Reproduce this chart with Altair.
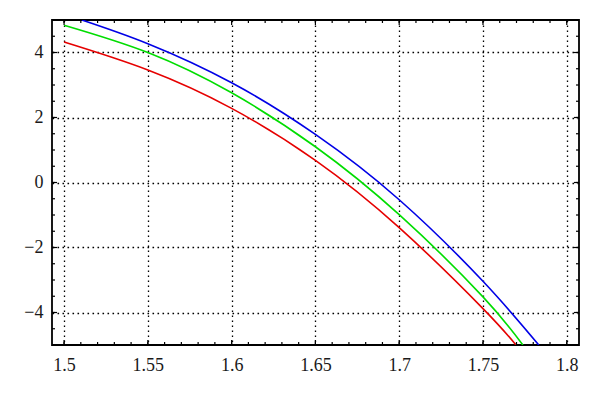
import altair as alt
import pandas as pd

# ---- data ----
blue_x = [1.5106, 1.55, 1.6, 1.65, 1.7, 1.75, 1.7833]
blue_y = [5.0, 4.27, 3.07, 1.48, -0.53, -3.04, -5.0]

green_x = [1.5, 1.55, 1.6, 1.65, 1.7, 1.75, 1.7738]
green_y = [4.84, 4.0, 2.76, 1.1, -0.99, -3.52, -5.0]

red_x = [1.5, 1.55, 1.6, 1.65, 1.7, 1.75, 1.7697]
red_y = [4.32, 3.46, 2.28, 0.68, -1.39, -3.88, -5.0]

series_names = ["blue", "green", "red"]
series_colors = ["#0000e6", "#00dd00", "#e60000"]

x_ticks = [1.5, 1.55, 1.6, 1.65, 1.7, 1.75, 1.8]
y_ticks = [-4, -2, 0, 2, 4]
x_minor = [round(1.5 + 0.01 * i, 2) for i in range(31)]
y_minor = [-5 + 0.5 * i for i in range(21)]

X_DOMAIN = [1.4928, 1.8073]
Y_DOMAIN = [-5, 5]

W, H = 527, 325
FONT = "Liberation Serif, Times New Roman, serif"

rows = []
for name, xs, ys in [("blue", blue_x, blue_y), ("green", green_x, green_y), ("red", red_x, red_y)]:
    for i, (x, y) in enumerate(zip(xs, ys)):
        rows.append({"series": name, "x": x, "y": y, "order": i})
df = pd.DataFrame(rows)

xscale = alt.Scale(domain=X_DOMAIN, nice=False, zero=False)
yscale = alt.Scale(domain=Y_DOMAIN, nice=False, zero=False)

xaxis = alt.Axis(values=x_ticks, title=None, format="~g")
yaxis = alt.Axis(values=y_ticks, title=None, format="~g")

lines = alt.Chart(df).mark_line(strokeWidth=1.6, interpolate="natural", clip=True).encode(
    x=alt.X("x:Q", scale=xscale, axis=xaxis),
    y=alt.Y("y:Q", scale=yscale, axis=yaxis),
    color=alt.Color("series:N", scale=alt.Scale(domain=series_names, range=series_colors), legend=None),
    order="order:Q",
)

xm = pd.DataFrame({"x": x_minor})
ym = pd.DataFrame({"y": y_minor})
xM = pd.DataFrame({"x": x_ticks})
yM = pd.DataFrame({"y": y_ticks})

def xt(data, length):
    b = alt.Chart(data).mark_rule(color="black", strokeWidth=1.2).encode(
        x=alt.X("x:Q", scale=xscale, axis=xaxis), y=alt.value(H), y2=alt.value(H - length))
    t = alt.Chart(data).mark_rule(color="black", strokeWidth=1.2).encode(
        x=alt.X("x:Q", scale=xscale, axis=xaxis), y=alt.value(0), y2=alt.value(length))
    return [b, t]

def yt(data, length):
    l = alt.Chart(data).mark_rule(color="black", strokeWidth=1.2).encode(
        y=alt.Y("y:Q", scale=yscale, axis=yaxis), x=alt.value(0), x2=alt.value(length))
    r = alt.Chart(data).mark_rule(color="black", strokeWidth=1.2).encode(
        y=alt.Y("y:Q", scale=yscale, axis=yaxis), x=alt.value(W), x2=alt.value(W - length))
    return [l, r]

layers = [lines] + xt(xm, 3) + xt(xM, 5) + yt(ym, 3) + yt(yM, 5)

chart = alt.layer(*layers).properties(
    width=W, height=H,
    background="white",
    autosize=alt.AutoSizeParams(type="none"),
    padding={"left": 44, "top": 12, "right": 13, "bottom": 42},
).configure_view(
    stroke="black", strokeWidth=1.8
).configure_axis(
    grid=True, gridDash=[1.6, 3.4], gridColor="black", gridOpacity=1, gridWidth=1.3,
    ticks=False, domain=False, labelFont=FONT, labelFontSize=18, labelColor="#1a1a1a",
    labelFlush=False
).configure_axisX(
    labelPadding=11
).configure_axisY(
    labelPadding=9
)

chart.save("out.html", embed_options={"renderer": "svg", "actions": False})
